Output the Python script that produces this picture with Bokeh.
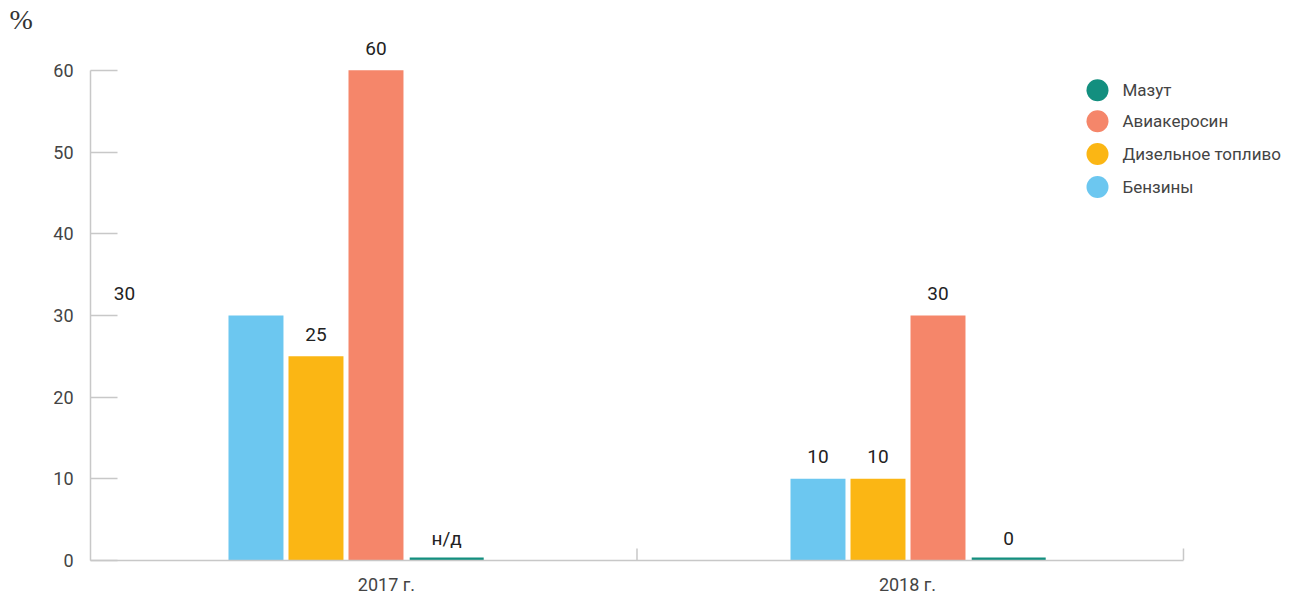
from bokeh.plotting import figure
from bokeh.models import Range1d, FixedTicker, ColumnDataSource, Title
from bokeh.core.properties import value
from bokeh.embed import file_html
from bokeh.resources import INLINE

# ---- data ----
years = ["2017 г.", "2018 г."]
series = ["Бензины", "Дизельное топливо", "Авиакеросин", "Мазут"]
benziny = [30, 10]
dizel = [25, 10]
aviakerosin = [60, 30]
mazut = [None, 0]
mazut_labels = ["н/д", "0"]
y_ticks = [0, 10, 20, 30, 40, 50, 60]
legend_order = ["Мазут", "Авиакеросин", "Дизельное топливо", "Бензины"]

colors = {
    "Бензины": "#6cc7f0",
    "Дизельное топливо": "#fbb614",
    "Авиакеросин": "#f5866a",
    "Мазут": "#138f7f",
}

# ---- layout constants ----
W, H = 1289, 597
left, top_border, bottom_border = 90, 34, 35
base_px = H - bottom_border          # pixel row of y=0
px_y = (base_px - 70) / 60.0         # 60 at pixel row 70
y_end = (base_px - top_border) / px_y
x_end = 2.194
px_x = (W - left) / x_end

group_base = [0.3028, 1.3312]
offsets = {"Бензины": 0.0, "Дизельное топливо": 0.1098, "Авиакеросин": 0.2196, "Мазут": 0.349}
widths = {"Бензины": 0.1006, "Дизельное топливо": 0.1006, "Авиакеросин": 0.1006, "Мазут": 0.1354}
label_x = [0.5416, 1.495]

FONT = "Roboto"

p = figure(width=W, height=H, output_backend="svg", toolbar_location=None,
           x_range=Range1d(0, x_end), y_range=Range1d(0, y_end),
           min_border_left=left, min_border_right=0, min_border_top=top_border,
           min_border_bottom=bottom_border)
p.outline_line_color = None
p.xgrid.visible = False
p.ygrid.visible = False
p.background_fill_color = "white"
p.border_fill_color = "white"

# "%" unit label as a title
p.add_layout(Title(text="%", align="left", offset=9 - left, standoff=0,
                   text_font="'Liberation Serif', 'DejaVu Serif', serif", text_font_size="28px",
                   text_font_style="normal", text_color="#333333"), "above")

# y axis
ya = p.yaxis[0]
ya.ticker = FixedTicker(ticks=y_ticks)
ya.bounds = (0, 60)
ya.axis_line_color = "#c8c8c8"
ya.axis_line_width = 1.5
ya.major_tick_line_color = "#c8c8c8"
ya.major_tick_line_width = 1.5
ya.major_tick_in = 27
ya.major_tick_out = 0
ya.minor_tick_line_color = None
ya.major_label_standoff = 17
ya.major_label_text_font = FONT
ya.major_label_text_font_size = "18px"
ya.major_label_text_color = "#444444"

# x axis (labels only)
xa = p.xaxis[0]
xa.ticker = FixedTicker(ticks=label_x)
xa.major_label_overrides = {label_x[i]: years[i] for i in range(len(years))}
xa.bounds = (0, 2)
xa.axis_line_color = "#c8c8c8"
xa.axis_line_width = 1.5
xa.major_tick_line_color = None
xa.minor_tick_line_color = None
xa.major_tick_in = 0
xa.major_tick_out = 0
xa.major_label_standoff = 13
xa.major_label_text_font = FONT
xa.major_label_text_font_size = "18px"
xa.major_label_text_color = "#444444"

# category separators (ticks pointing up)
sep_x = [i + 1 for i in range(len(years))]
p.segment(x0=sep_x, y0=[0] * len(sep_x), x1=sep_x, y1=[12 / px_y] * len(sep_x),
          line_color="#c8c8c8", line_width=1.5)

values = {"Бензины": benziny, "Дизельное топливо": dizel, "Авиакеросин": aviakerosin, "Мазут": mazut}
stub = 3 / px_y
for s in series:
    xs = [g + offsets[s] for g in group_base]
    tops = [v if (v is not None and v > 0) else stub for v in values[s]]
    p.vbar(x=xs, top=tops, bottom=0, width=widths[s], fill_color=colors[s], line_color=None)

# value labels
lab_x, lab_y, lab_t = [], [], []
for s in ["Дизельное топливо", "Авиакеросин"]:
    for i, g in enumerate(group_base):
        lab_x.append(g + offsets[s]); lab_y.append(values[s][i]); lab_t.append(str(values[s][i]))
# Бензины: 2017 label is displaced to the left in the original
lab_x.append(0.0622); lab_y.append(benziny[0]); lab_t.append(str(benziny[0]))
lab_x.append(group_base[1] + offsets["Бензины"]); lab_y.append(benziny[1]); lab_t.append(str(benziny[1]))
src = ColumnDataSource(dict(x=lab_x, y=lab_y, t=lab_t))
p.text(x="x", y="y", text="t", source=src, text_align="center", text_baseline="middle",
       y_offset=-22, text_font=value(FONT), text_font_size="19px", text_font_style="normal",
       text_color="#222222")
# Мазут labels
p.text(x=[g + offsets["Мазут"] for g in group_base], y=[stub, stub], text=mazut_labels,
       text_align="center", text_baseline="middle", y_offset=-19,
       text_font=value(FONT), text_font_size="19px", text_font_style="normal", text_color="#222222")

# legend (manual)
leg_x = (1097 - left) / px_x
txt_x = (1122 - left) / px_x
leg_y = [(base_px - yy) / px_y for yy in [90, 121, 154, 187]]
p.scatter(x=[leg_x] * 4, y=leg_y, size=22, marker="circle",
          fill_color=[colors[s] for s in legend_order], line_color=None)
p.text(x=[txt_x] * 4, y=leg_y, text=legend_order, text_baseline="middle", text_align="left",
       text_font=value(FONT), text_font_size="17px", text_color="#444444")

open("out.html", "w").write(file_html(p, INLINE))
